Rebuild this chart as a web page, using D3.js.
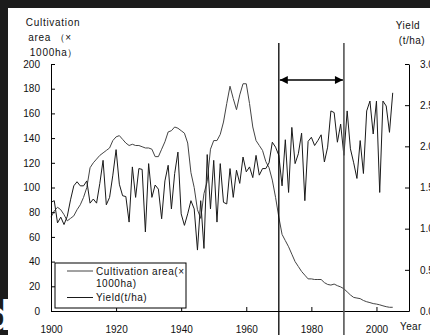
<!DOCTYPE html>
<html>
<head>
<meta charset="utf-8">
<script src="https://cdn.jsdelivr.net/npm/d3@7"></script>
<style>
  body { margin: 0; background: #fff; }
  svg text { font-family: "Liberation Sans", Arial, sans-serif; }
</style>
</head>
<body>
<div id="chart"></div>
<script>
// 年份（横轴分类）
var years = d3.range(1900, 2006);

// 种植面积 (×1000ha)
var area = [
  76, 81, 84, 82, 78, 73, 75, 77, 82, 86,
  92, 100, 116, 120, 123, 126, 128, 130, 132, 138,
  141, 142, 139, 136, 134, 135, 134, 134, 133, 132,
  132, 131, 125, 125, 131, 137, 145, 146, 149, 148,
  146, 144, 136, 112, 100, 82, 75, 95, 105, 131,
  138, 138, 143, 153, 168, 182, 172, 163, 175, 184,
  184, 168, 149, 138, 134, 130, 121, 116, 106, 92,
  76, 62, 57, 52, 46, 40, 36, 32, 29, 26,
  26, 25.5, 25.5, 25.5, 23, 21.5, 21, 21.8, 20.5, 19.5,
  18, 15.5, 13, 11, 10.5, 10, 8.5, 7.5, 6.8, 6,
  5.6, 5, 4.2, 3.5, 3, 3
];

// 单产 (t/ha)
var yieldData = [
  1.32, 1.34, 1.07, 1.14, 1.05, 1.15, 1.35, 1.52, 1.57, 1.52,
  1.52, 1.58, 1.31, 1.36, 1.31, 1.55, 1.83, 1.29, 1.38, 1.65,
  1.96, 1.54, 1.40, 1.39, 1.08, 1.75, 1.38, 1.73, 1.72, 0.96,
  1.79, 1.38, 1.53, 1.48, 1.12, 1.58, 1.77, 1.24, 1.67, 1.93,
  1.18, 1.04, 1.18, 1.34, 1.24, 0.74, 1.34, 0.76, 1.90, 1.24,
  1.83, 1.08, 1.79, 1.32, 1.30, 1.73, 1.38, 1.71, 1.55, 1.87,
  1.69, 1.75, 1.62, 1.89, 1.65, 1.73, 1.73, 1.80, 2.05, 1.99,
  1.89, 1.52, 2.08, 1.44, 2.23, 1.79, 1.91, 2.16, 1.34, 2.06,
  2.11, 2.01, 2.07, 2.14, 1.81, 1.99, 2.43, 2.41, 2.05, 2.27,
  1.89, 2.43, 1.97, 1.80, 1.61, 2.07, 1.67, 2.43, 2.55, 2.15,
  2.55, 1.44, 2.55, 2.49, 2.17, 2.65
];

var leftTicks = [0, 20, 40, 60, 80, 100, 120, 140, 160, 180, 200];
var rightTicks = [0, 0.5, 1.0, 1.5, 2.0, 2.5, 3.0];
var yearTicks = [1900, 1920, 1940, 1960, 1980, 2000];
var markYears = [1970, 1990];

var width = 430, height = 335;
var svg = d3.select("#chart").append("svg")
  .attr("width", width)
  .attr("height", height);

var x = d3.scaleLinear().domain([1900, 2010]).range([51, 409]);
var yL = d3.scaleLinear().domain([0, 200]).range([311, 64]);
var yR = d3.scaleLinear().domain([0, 3]).range([311, 64]);

svg.append("rect").attr("width", width).attr("height", height).attr("fill", "#fff");

// 折线
var areaLine = d3.line()
  .x(function(d, i) { return x(years[i]); })
  .y(function(d) { return yL(d); });
var yieldLine = d3.line()
  .x(function(d, i) { return x(years[i]); })
  .y(function(d) { return yR(d); });

svg.append("path").datum(area)
  .attr("d", areaLine)
  .attr("fill", "none")
  .attr("stroke", "#444")
  .attr("stroke-width", 1);

svg.append("path").datum(yieldData)
  .attr("d", yieldLine)
  .attr("fill", "none")
  .attr("stroke", "#1a1a1a")
  .attr("stroke-width", 1);

// 坐标轴
var axL = svg.append("g").attr("transform", "translate(" + x(1900) + ",0)")
  .call(d3.axisLeft(yL).tickValues(leftTicks).tickSize(-4).tickPadding(11).tickSizeOuter(0));
var axR = svg.append("g").attr("transform", "translate(" + x(2010) + ",0)")
  .call(d3.axisRight(yR).tickValues(rightTicks).tickSize(-4).tickPadding(11).tickSizeOuter(0)
    .tickFormat(d3.format(".1f")));
var axB = svg.append("g").attr("transform", "translate(0," + yL(0) + ")")
  .call(d3.axisBottom(x).tickValues(yearTicks.concat([2010])).tickSize(-4).tickPadding(15).tickSizeOuter(0)
    .tickFormat(function(d) { return d === 2010 ? "" : d; }));

[axL, axR, axB].forEach(function(g) {
  g.selectAll("path, line").attr("stroke", "#000").attr("stroke-width", 1);
  g.selectAll("text").attr("font-size", 10).attr("fill", "#111")
    .style("font-family", "'Liberation Sans', Arial, sans-serif");
});

// 1970 / 1990 竖线
svg.selectAll("line.mark").data(markYears).enter().append("line")
  .attr("class", "mark")
  .attr("x1", function(d) { return x(d); })
  .attr("x2", function(d) { return x(d); })
  .attr("y1", 43).attr("y2", height)
  .attr("stroke", function(d, i) { return i === 0 ? "#000" : "#555"; })
  .attr("stroke-width", function(d, i) { return i === 0 ? 1.3 : 1.6; });

// 双向箭头
var defs = svg.append("defs");
defs.append("marker")
  .attr("id", "arrow")
  .attr("viewBox", "0 0 10 10")
  .attr("refX", 10).attr("refY", 5)
  .attr("markerUnits", "userSpaceOnUse")
  .attr("markerWidth", 10).attr("markerHeight", 8)
  .attr("orient", "auto-start-reverse")
  .append("path").attr("d", "M0,0L10,5L0,10Z").attr("fill", "#000");

svg.append("line")
  .attr("x1", x(markYears[0]) + 1).attr("x2", x(markYears[1]) - 1)
  .attr("y1", 80).attr("y2", 80)
  .attr("stroke", "#000").attr("stroke-width", 1.5)
  .attr("marker-start", "url(#arrow)")
  .attr("marker-end", "url(#arrow)");

// 轴标题
var titleL = [["Cultivation", 53, 26], ["area （×", 50, 41], ["1000ha）", 54, 56]];
svg.selectAll("text.tl").data(titleL).enter().append("text")
  .attr("class", "tl")
  .attr("x", function(d) { return d[1]; })
  .attr("y", function(d) { return d[2]; })
  .attr("text-anchor", "middle")
  .attr("font-size", 10)
  .attr("letter-spacing", 0.7)
  .attr("fill", "#111")
  .text(function(d) { return d[0]; });

svg.append("text").attr("x", 408).attr("y", 29).attr("text-anchor", "middle")
  .attr("font-size", 10).attr("letter-spacing", 0.5).attr("fill", "#111").text("Yield");
svg.append("text").attr("x", 412).attr("y", 44).attr("text-anchor", "middle")
  .attr("font-size", 10).attr("letter-spacing", 0.5).attr("fill", "#111").text("(t/ha)");
svg.append("text").attr("x", 400).attr("y", 330).attr("font-size", 10)
  .attr("letter-spacing", 0.4).attr("fill", "#111").text("Year");

// 图例
var legend = svg.append("g");
legend.append("rect")
  .attr("x", 55).attr("y", 263).attr("width", 131).attr("height", 45)
  .attr("fill", "#fff").attr("stroke", "#000").attr("stroke-width", 1);
legend.append("line").attr("x1", 67).attr("x2", 93).attr("y1", 271).attr("y2", 271)
  .attr("stroke", "#444");
legend.append("line").attr("x1", 67).attr("x2", 93).attr("y1", 297.5).attr("y2", 297.5)
  .attr("stroke", "#1a1a1a");
var legendText = [["Cultivation area(×", 275], ["1000ha)", 287], ["Yield(t/ha)", 301]];
legend.selectAll("text").data(legendText).enter().append("text")
  .attr("x", 96)
  .attr("y", function(d) { return d[1]; })
  .attr("font-size", 10)
  .attr("letter-spacing", 0.55)
  .attr("fill", "#111")
  .text(function(d) { return d[0]; });

// 外框（截图边缘的黑条），左下角露出的 "d"
var frame = svg.append("g");
frame.append("rect").attr("x", 0).attr("y", 0).attr("width", width).attr("height", 8).attr("fill", "#1c1c1c");
frame.append("rect").attr("x", 0).attr("y", 0).attr("width", 8).attr("height", height).attr("fill", "#1c1c1c");
frame.append("text")
  .attr("transform", "translate(-15,330)")
  .attr("font-size", 40)
  .style("font-family", "'DejaVu Sans', sans-serif")
  .style("font-weight", "bold")
  .style("fill", "#ffffff")
  .text("d");
</script>
</body>
</html>
